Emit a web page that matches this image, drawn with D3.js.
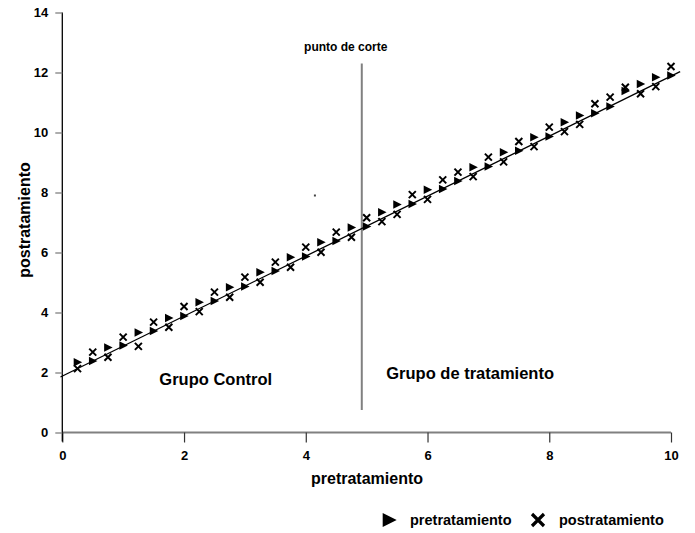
<!DOCTYPE html>
<html><head><meta charset="utf-8">
<script src="https://cdn.jsdelivr.net/npm/d3@7"></script>
<style>
html,body{margin:0;padding:0;background:#fff;}
text{font-family:"Liberation Sans",Arial,sans-serif;font-weight:bold;fill:#000;}
</style></head>
<body>
<svg id="c" width="695" height="533"></svg>
<script>
// ---- data ----
const xValues = [0.25,0.5,0.75,1,1.25,1.5,1.75,2,2.25,2.5,2.75,3,3.25,3.5,3.75,4,4.25,4.5,4.75,5,
                 5.25,5.5,5.75,6,6.25,6.5,6.75,7,7.25,7.5,7.75,8,8.25,8.5,8.75,9,9.25,9.5,9.75,10];
const preValues = [2.34,2.38,2.83,2.9,3.33,3.38,3.82,3.88,4.34,4.38,4.84,4.87,5.34,5.38,5.84,5.87,6.34,6.38,6.83,6.87,
                   7.34,7.6,7.62,8.09,8.12,8.38,8.84,8.87,9.34,9.39,9.84,9.87,10.34,10.57,10.64,10.87,11.38,11.62,11.84,11.9];
const postValues = [2.13,2.68,2.51,3.18,2.87,3.68,3.51,4.2,4.03,4.68,4.51,5.18,5.01,5.68,5.51,6.18,6.01,6.68,6.51,7.16,
                    7.03,7.27,7.93,7.77,8.42,8.68,8.53,9.18,9.02,9.7,9.53,10.18,10.03,10.27,10.96,11.18,11.51,11.29,11.53,12.2];
const fitLine = [[-0.03,1.85],[10.15,12.03]];
const cutPoint = 4.92;
const cutRange = [0.75,12.3];
const strayDot = [[4.15,7.9]];
const xTicks = [0,2,4,6,8,10];
const yTicks = [0,2,4,6,8,10,12,14];
const groupLabels = [{text:"Grupo Control", x:2.52, y:1.6},{text:"Grupo de tratamiento", x:6.7, y:1.8}];
const legendItems = [{type:"tri", label:"pretratamiento"},{type:"x", label:"postratamiento"}];

// ---- chart ----
const svg = d3.select("#c");
const x = d3.scaleLinear().domain([0,10]).range([62.3,671]);
const y = d3.scaleLinear().domain([0,14]).range([432.5,12.5]);

// x axis
const gx = svg.append("g").attr("transform","translate(0,432.5)")
  .call(d3.axisBottom(x).tickValues(xTicks).tickSize(10).tickPadding(6).tickFormat(d3.format("d")));
gx.select(".domain").attr("d",`M${x(0)},0H${x(10)}`).attr("stroke","#808080").attr("stroke-width",2);
gx.selectAll(".tick line").attr("stroke","#333").attr("stroke-width",1.2);
gx.selectAll(".tick text").attr("font-size",13).attr("dy","0.85em");

// y axis
const gy = svg.append("g").attr("transform","translate(62.3,0)")
  .call(d3.axisLeft(y).tickValues(yTicks).tickSize(7).tickPadding(7).tickFormat(d3.format("d")));
gy.select(".domain").attr("d",`M0,${y(14)}V${y(0)+9}`).attr("stroke","#000").attr("stroke-width",1.3);
gy.selectAll(".tick line").attr("stroke","#808080").attr("stroke-width",1.3);
gy.selectAll(".tick text").attr("font-size",13);

// axis titles
svg.append("text").attr("x",367).attr("y",484).attr("text-anchor","middle").attr("font-size",16).text("pretratamiento");
svg.append("text").attr("transform","translate(30,220) rotate(-90)").attr("text-anchor","middle").attr("font-size",16).text("postratamiento");

// cut line
svg.append("line").attr("x1",x(cutPoint)).attr("x2",x(cutPoint)).attr("y1",y(cutRange[1])).attr("y2",y(cutRange[0]))
  .attr("stroke","#808080").attr("stroke-width",2);
svg.append("text").attr("x",x(cutPoint)-16).attr("y",51).attr("text-anchor","middle").attr("font-size",12).text("punto de corte");

// group labels
svg.selectAll("text.grp").data(groupLabels).join("text").attr("class","grp")
  .attr("x",d=>x(d.x)).attr("y",d=>y(d.y)).attr("text-anchor","middle").attr("font-size",16.5).text(d=>d.text);

// fit line
svg.append("path").datum(fitLine).attr("d",d3.line().x(d=>x(d[0])).y(d=>y(d[1])))
  .attr("stroke","#000").attr("stroke-width",1.3).attr("fill","none");

// markers
const triPath = (s)=>`M${-s*0.45},${-s*0.5}L${s*0.55},0L${-s*0.45},${s*0.5}Z`;
const xPath = (s)=>`M${-s/2},${-s/2}L${s/2},${s/2}M${-s/2},${s/2}L${s/2},${-s/2}`;

svg.append("g").selectAll("path").data(xValues.map((v,i)=>[v,postValues[i]])).join("path")
  .attr("transform",d=>`translate(${x(d[0])},${y(d[1])})`).attr("d",xPath(7))
  .attr("stroke","#000").attr("stroke-width",2).attr("fill","none");
svg.append("g").selectAll("path").data(xValues.map((v,i)=>[v,preValues[i]])).join("path")
  .attr("transform",d=>`translate(${x(d[0])},${y(d[1])})`).attr("d",triPath(8.5)).attr("fill","#000");

svg.append("g").selectAll("rect").data(strayDot).join("rect")
  .attr("x",d=>x(d[0])-1).attr("y",d=>y(d[1])-1).attr("width",2).attr("height",2).attr("fill","#444");

// legend
const lg = svg.append("g");
const lx = [389, 538];
legendItems.forEach((it,i)=>{
  const g = lg.append("g").attr("transform",`translate(${lx[i]},520)`);
  if(it.type==="tri") g.append("path").attr("d",triPath(14)).attr("fill","#000");
  else g.append("path").attr("d",xPath(12)).attr("stroke","#000").attr("stroke-width",3.2).attr("fill","none");
  g.append("text").attr("x",21).attr("y",5).attr("font-size",14.5).text(it.label);
});
</script>
</body></html>
